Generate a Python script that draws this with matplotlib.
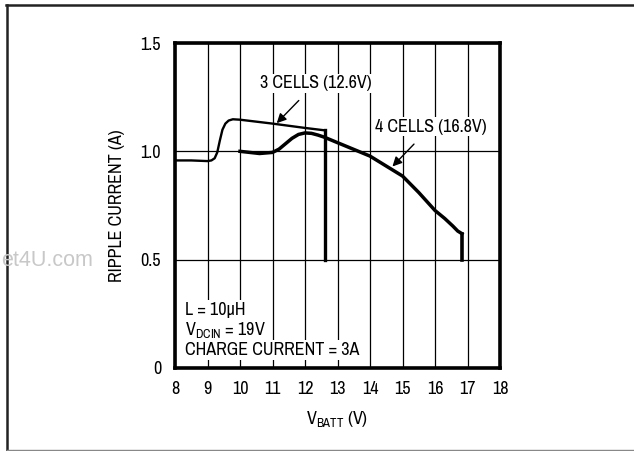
import matplotlib
matplotlib.use("Agg")
import matplotlib.pyplot as plt
from matplotlib.lines import Line2D
from matplotlib import font_manager

names = sorted({f.name for f in font_manager.fontManager.ttflist})
narrow = [n for n in names if ('Narrow' in n or 'Condensed' in n or 'Cond' in n)]
FONT = narrow[0] if narrow else "Liberation Sans"
FS = 13 if narrow else 11
plt.rcParams['font.family'] = [FONT, 'DejaVu Sans']
plt.rcParams['mathtext.fontset'] = 'custom'
plt.rcParams['mathtext.rm'] = FONT
plt.rcParams['mathtext.it'] = FONT

# ---- data ----
x_3cell = [8.0, 8.5, 9.0, 9.12, 9.22, 9.3, 9.38, 9.46, 9.55, 9.65, 9.78, 10.0, 11.0, 12.0, 12.6]
y_3cell = [0.958, 0.958, 0.955, 0.958, 0.968, 0.995, 1.05, 1.1, 1.128, 1.142, 1.148, 1.146, 1.128, 1.108, 1.097]
x_3drop = [12.6, 12.6]
y_3drop = [1.097, 0.5]

x_4cell = [10.0, 10.3, 10.6, 11.0, 11.2, 11.4, 11.6, 11.8, 12.0, 12.2, 12.4, 12.6, 13.0, 14.0, 15.0, 15.5, 16.0, 16.3, 16.55, 16.7, 16.83]
y_4cell = [1.0, 0.995, 0.99, 0.995, 1.01, 1.035, 1.06, 1.078, 1.085, 1.083, 1.075, 1.065, 1.04, 0.978, 0.886, 0.81, 0.727, 0.69, 0.655, 0.632, 0.62]
x_4drop = [16.83, 16.83]
y_4drop = [0.62, 0.5]

xticks = [8, 9, 10, 11, 12, 13, 14, 15, 16, 17, 18]
yticks = [0, 0.5, 1.0, 1.5]
ytick_labels = ["0", "0.5", "1.0", "1.5"]

fig = plt.figure(figsize=(6.34, 4.51), dpi=100)
W, H = 634, 451
ax = fig.add_axes([175 / W, 1 - 368 / H, (500 - 175) / W, (368 - 43) / H])

ax.set_xlim(8, 18)
ax.set_ylim(0, 1.5)
ax.set_xticks(xticks)
ax.set_yticks(yticks)
ax.set_yticklabels(ytick_labels)
ax.tick_params(length=0, labelsize=FS, pad=10)
ax.tick_params(axis='x', pad=9)
for s in ax.spines.values():
    s.set_linewidth(2.6)
    s.set_color('black')
ax.grid(True, color='black', linewidth=0.9)
ax.set_axisbelow(True)

ax.plot(x_3cell, y_3cell, color='black', lw=1.7, solid_capstyle='butt', zorder=3)
ax.plot(x_3drop, y_3drop, color='black', lw=2.4, zorder=3)
ax.plot(x_4cell, y_4cell, color='black', lw=2.5, zorder=3)
ax.plot(x_4drop, y_4drop, color='black', lw=2.6, zorder=3)

ax.annotate("3 CELLS (12.6V)", xy=(11.13, 1.13), xytext=(12.33, 1.315),
            ha='center', va='center', fontsize=FS,
            bbox=dict(facecolor='white', edgecolor='none', pad=1),
            arrowprops=dict(arrowstyle='-|>', color='black', lw=1.0,
                            mutation_scale=14, shrinkA=8, shrinkB=0), zorder=5)
ax.annotate("4 CELLS (16.8V)", xy=(14.69, 0.93), xytext=(15.87, 1.114),
            ha='center', va='center', fontsize=FS,
            bbox=dict(facecolor='white', edgecolor='none', pad=1),
            arrowprops=dict(arrowstyle='-|>', color='black', lw=1.0,
                            mutation_scale=14, shrinkA=8, shrinkB=0), zorder=5)

for yy, t in [(0.268, "L = 10µH"), (0.175, r"V$_{\mathrm{DCIN}}$ = 19V"),
              (0.083, "CHARGE CURRENT = 3A")]:
    ax.text(8.3, yy, t, ha='left', va='center', fontsize=FS,
            bbox=dict(facecolor='white', edgecolor='none', pad=1.5), zorder=5)

ax.set_ylabel("RIPPLE CURRENT (A)", fontsize=FS, labelpad=11)
ax.set_xlabel(r"V$_{\mathrm{BATT}}$ (V)", fontsize=FS, labelpad=9)

# watermark
fig.text(1 / W, 1 - 261 / H, "et4U.com", ha='left', va='center',
         fontsize=15.5, color='#c8c8c8', family=['Liberation Sans', 'DejaVu Sans'])

# outer frame
fig.add_artist(Line2D([6 / W, 1.0], [1 - 5 / H, 1 - 5 / H], color='#222222', lw=1.8, transform=fig.transFigure))
fig.add_artist(Line2D([7 / W, 7 / W], [1 - 5 / H, 1 - 450 / H], color='#222222', lw=1.8, transform=fig.transFigure))
fig.add_artist(Line2D([7 / W, 1.0], [1 - 449.5 / H, 1 - 449.5 / H], color='#888888', lw=1.0, transform=fig.transFigure))

fig.savefig("out.png", dpi=100)
